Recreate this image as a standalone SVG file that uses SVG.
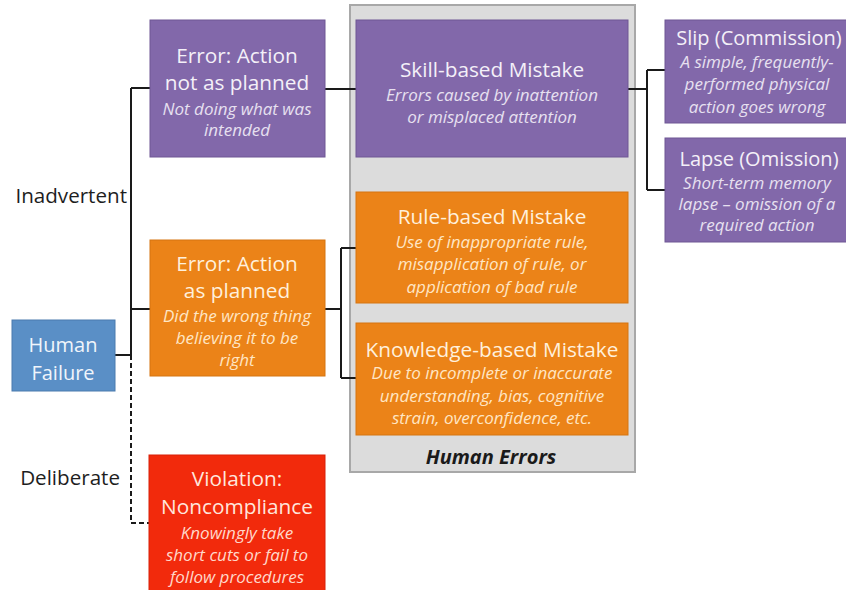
<svg xmlns="http://www.w3.org/2000/svg" width="846" height="590" viewBox="0 0 846 590">
<style>
.t{font-family:"Open Sans","Liberation Sans",Arial,sans-serif;font-size:20.8px;text-anchor:middle}
.d{font-family:"Open Sans","Liberation Sans",Arial,sans-serif;font-size:17px;font-style:italic;text-anchor:middle}
.lbl{font-family:"Open Sans","Liberation Sans",Arial,sans-serif;font-size:20.6px;fill:#1e1e1e;text-anchor:end}
.pu{fill:#8268AA;stroke:#6E5794;stroke-width:1}
.or{fill:#EB8318;stroke:#D57410;stroke-width:1}
.pt{fill:#F4F0F8}
.pd{fill:#E7E0F0}
.ot{fill:#FFF0DC}
.od{fill:#FFE6C4}
.ln{fill:none;stroke:#1a1a1a;stroke-width:2}
</style>
<rect width="846" height="590" fill="#ffffff"/>
<g id="human-errors-group">
<rect x="350" y="5" width="285" height="467" fill="#DCDCDC" stroke="#A8A8A8" stroke-width="2"/>
<text x="491" y="464" style="font-family:'Open Sans','Liberation Sans',Arial,sans-serif;font-size:20px;font-weight:bold;font-style:italic;text-anchor:middle;fill:#1a1a1a">Human Errors</text>
</g>
<g id="connectors">
<path class="ln" d="M115 355 H131 M131 88 V355 M131 88 H150 M131 309 H150"/>
<path d="M131 355 V523 H149" fill="none" stroke="#1a1a1a" stroke-width="2" stroke-dasharray="5,3"/>
<path class="ln" d="M325 89 H356"/>
<path class="ln" d="M325 309 H341 M341 248 V378 M341 248 H356 M341 378 H356"/>
<path class="ln" d="M628 89 H647 M647 70 V190 M647 70 H665 M647 190 H665"/>
</g>
<g id="human-failure">
<rect x="12" y="320" width="103" height="71" fill="#5A8FC6" stroke="#4A7AAE" stroke-width="1"/>
<text class="t" x="63" y="352" style="font-size:20px;fill:#F0F5FB">Human</text>
<text class="t" x="63" y="380" style="font-size:20px;fill:#F0F5FB">Failure</text>
</g>
<g id="label-inadvertent"><text class="lbl" x="127" y="203">Inadvertent</text></g>
<g id="label-deliberate"><text class="lbl" x="120" y="485">Deliberate</text></g>
<g id="error-not-planned">
<rect class="pu" x="150" y="20" width="175" height="137"/>
<text class="t pt" x="237" y="63">Error: Action</text>
<text class="t pt" x="237" y="90">not as planned</text>
<text class="d pd" x="237" y="115">Not doing what was</text>
<text class="d pd" x="237" y="136">intended</text>
</g>
<g id="error-planned">
<rect class="or" x="150" y="240" width="175" height="136"/>
<text class="t ot" x="237" y="271">Error: Action</text>
<text class="t ot" x="237" y="298">as planned</text>
<text class="d od" x="237" y="322">Did the wrong thing</text>
<text class="d od" x="237" y="344">believing it to be</text>
<text class="d od" x="237" y="366">right</text>
</g>
<g id="violation">
<rect x="149" y="455" width="176" height="140" fill="#F22A0C" stroke="#D82008" stroke-width="1"/>
<text class="t" x="237" y="486" style="fill:#FFE6DC">Violation:</text>
<text class="t" x="237" y="514" style="fill:#FFE6DC">Noncompliance</text>
<text class="d" x="237" y="539" style="fill:#FFD8CA">Knowingly take</text>
<text class="d" x="237" y="561" style="fill:#FFD8CA">short cuts or fail to</text>
<text class="d" x="237" y="583" style="fill:#FFD8CA">follow procedures</text>
</g>
<g id="skill-based">
<rect class="pu" x="356" y="20" width="272" height="137"/>
<text class="t pt" x="492" y="77">Skill-based Mistake</text>
<text class="d pd" x="492" y="101">Errors caused by inattention</text>
<text class="d pd" x="492" y="123">or misplaced attention</text>
</g>
<g id="rule-based">
<rect class="or" x="356" y="192" width="272" height="111"/>
<text class="t ot" x="492" y="224">Rule-based Mistake</text>
<text class="d od" x="492" y="248">Use of inappropriate rule,</text>
<text class="d od" x="492" y="270">misapplication of rule, or</text>
<text class="d od" x="492" y="293">application of bad rule</text>
</g>
<g id="knowledge-based">
<rect class="or" x="356" y="323" width="272" height="112"/>
<text class="t ot" x="492" y="357">Knowledge-based Mistake</text>
<text class="d od" x="492" y="379">Due to incomplete or inaccurate</text>
<text class="d od" x="492" y="402">understanding, bias, cognitive</text>
<text class="d od" x="492" y="424">strain, overconfidence, etc.</text>
</g>
<g id="slip">
<rect class="pu" x="665" y="20" width="186" height="103"/>
<text class="t pt" x="759" y="45" style="font-size:20px">Slip (Commission)</text>
<text class="d pd" x="757" y="68">A simple, frequently-</text>
<text class="d pd" x="757" y="90">performed physical</text>
<text class="d pd" x="757" y="113">action goes wrong</text>
</g>
<g id="lapse">
<rect class="pu" x="665" y="138" width="186" height="104"/>
<text class="t pt" x="759" y="166" style="font-size:20px">Lapse (Omission)</text>
<text class="d pd" x="757" y="189">Short-term memory</text>
<text class="d pd" x="757" y="210">lapse – omission of a</text>
<text class="d pd" x="757" y="231">required action</text>
</g>
</svg>
